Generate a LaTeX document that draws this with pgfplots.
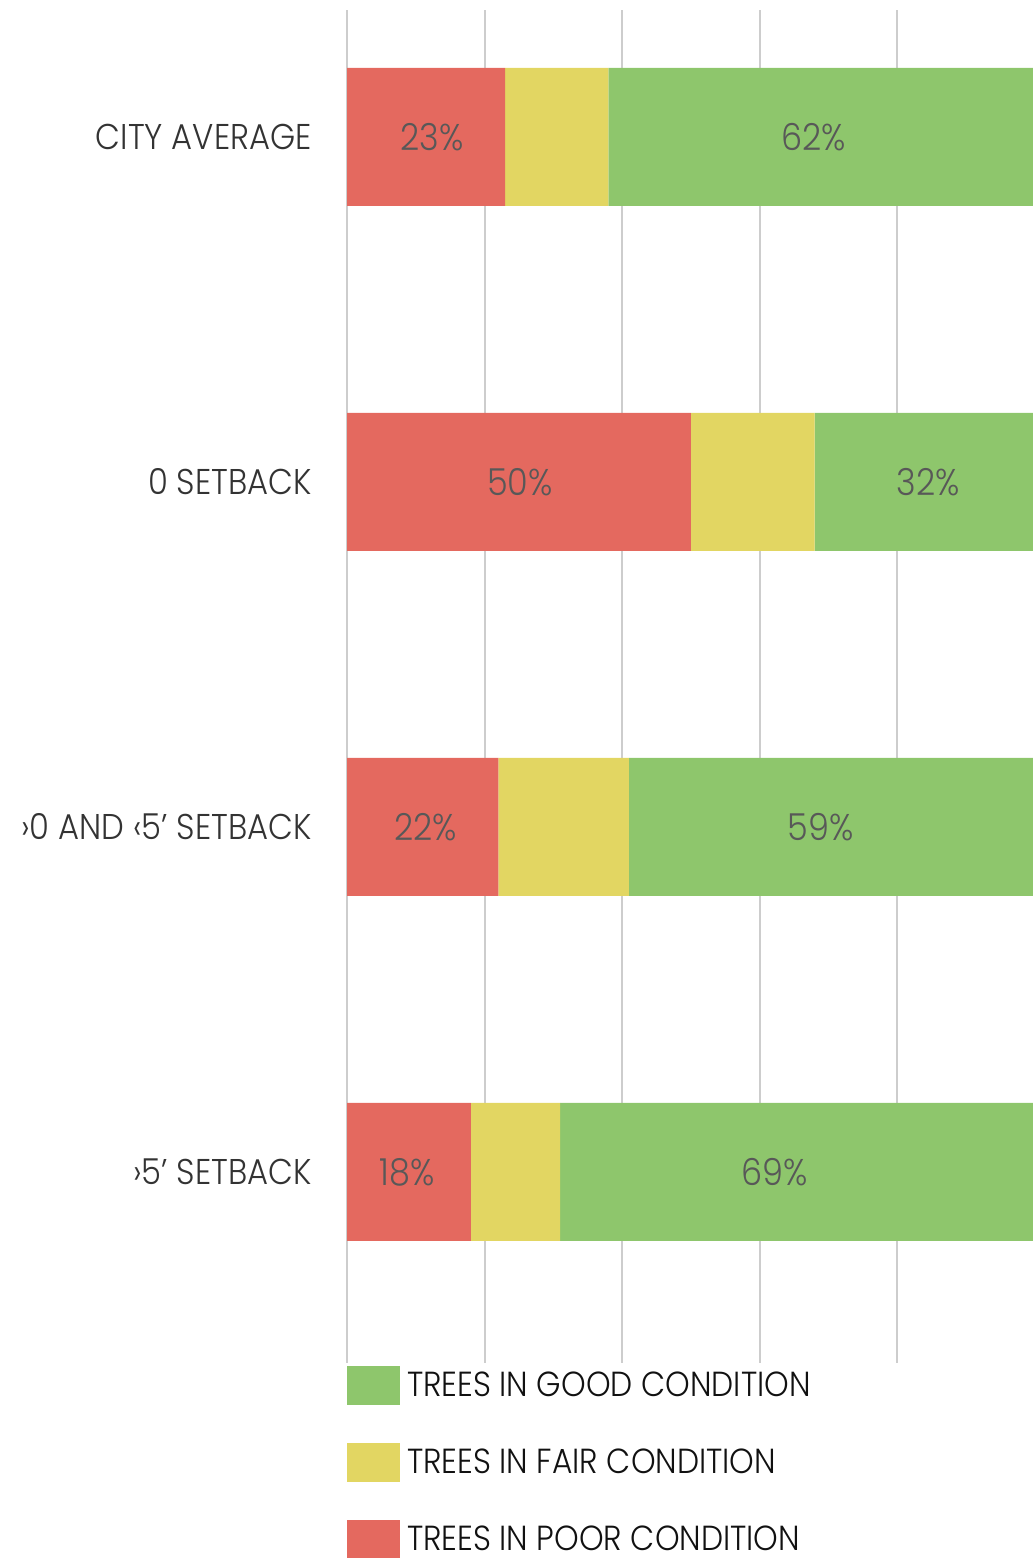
\documentclass[border=0pt]{standalone}
\usepackage{fontspec}
\setmainfont{Poppins Light}[FakeStretch=0.9]
\usepackage{pgfplots}
\usepackage{pgfplotstable}
\pgfplotsset{compat=1.18}

\definecolor{poorred}{HTML}{E4695F}
\definecolor{fairyellow}{HTML}{E2D662}
\definecolor{goodgreen}{HTML}{8EC66C}
\definecolor{gridgray}{HTML}{CDCDCD}
\definecolor{labelgray}{HTML}{333333}
\definecolor{valuegray}{HTML}{585858}
\definecolor{legendtext}{HTML}{111111}

% share of street trees by condition, per setback class (percent);
% poordx / gooddx nudge the printed percentages sideways (pt)
\pgfplotstableread{
pos poor fair good poordx gooddx
3   23   15   62   3.0    -4.0
2   50   18   32   0.5     2.0
1   22   19   59   1.5    -5.5
0   18   13   69  -1.0   -11.5
}\conditiondata

% percentage printed inside its own segment
\pgfplotsset{
  seglabel/.style={
    nodes near coords={\pgfmathprintnumber{\pgfplotspointmeta}\%},
    point meta=explicit,
    visualization depends on={\thisrow{#1} \as \labdx},
    every node near coord/.append style={anchor=center, inner sep=0pt,
      xshift=\labdx pt,
      font=\fontsize{18.6}{20}\selectfont, text=valuegray},
  },
}

\begin{document}
\begin{tikzpicture}
\useasboundingbox (0,0) rectangle (516.5pt,779pt);
\begin{axis}[
  at={(173.5pt,97.5pt)}, anchor=south west,
  scale only axis, width=343.75pt, height=676.5pt,
  xbar stacked, bar width=69pt,
  xmin=0, xmax=100, ymin=-0.554, ymax=3.368,
  /pgf/number format/assume math mode=true,
  xtick={0,20,40,60,80}, xticklabels={},
  ytick={0,1,2,3},
  yticklabels={{›5’ SETBACK},{›0 AND ‹5’ SETBACK},{0 SETBACK},{CITY AVERAGE}},
  yticklabel style={anchor=east, inner sep=0pt, xshift=-17.5pt,
    font=\fontsize{17.9}{20}\selectfont, text=labelgray},
  major tick length=0pt,
  axis line style={draw=none},
  xmajorgrids, grid style={gridgray, line width=1pt},
  legend style={at={(0,0)}, anchor=north west, yshift=-1.5pt,
    draw=none, fill=none, inner sep=0pt, outer sep=0pt, row sep=19pt,
    cells={anchor=west},
    nodes={inner sep=0pt},
    font=\fontsize{17.4}{18}\selectfont, text=legendtext},
  legend cell align=left,
  /tikz/every odd column/.append style={column sep=3.5pt},
  legend image code/.code={\fill[#1] (0pt,-9.75pt) rectangle (26.5pt,9.75pt);},
  reverse legend,
]
\addplot[draw=none, fill=poorred, seglabel=poordx]
  table[x=poor, y=pos, meta=poor] {\conditiondata};
\addlegendentry{TREES IN POOR CONDITION}
\addplot[draw=none, fill=fairyellow]
  table[x=fair, y=pos] {\conditiondata};
\addlegendentry{TREES IN FAIR CONDITION}
\addplot[draw=none, fill=goodgreen, seglabel=gooddx]
  table[x=good, y=pos, meta=good] {\conditiondata};
\addlegendentry{TREES IN GOOD CONDITION}
\end{axis}
\end{tikzpicture}
\end{document}
